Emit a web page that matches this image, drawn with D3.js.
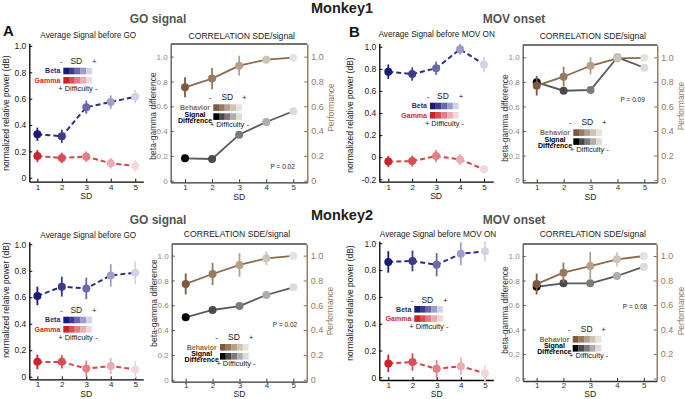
<!DOCTYPE html>
<html><head><meta charset="utf-8">
<script src="https://cdn.jsdelivr.net/npm/d3@7"></script>
<style>
body{margin:0;background:#fff}
svg{display:block}
text{font-family:"Liberation Sans",Arial,Helvetica,sans-serif}
</style>
</head><body>
<svg id="c" width="685" height="399"></svg>
<script>
// ---------------- DATA ----------------
const sdLevels = [1, 2, 3, 4, 5];
const powerTicks = [0, 0.2, 0.4, 0.6, 0.8, 1.0];
const powerTicksMov1 = [-0.2, 0, 0.2, 0.4, 0.6, 0.8, 1.0];
const corrTicks = [0, 0.2, 0.4, 0.6, 0.8, 1.0];

// Monkey1 - GO signal
const m1GoBeta = [0.33, 0.315, 0.535, 0.575, 0.615];
const m1GoBetaErr = [0.05, 0.05, 0.05, 0.05, 0.05];
const m1GoGamma = [0.165, 0.15, 0.16, 0.11, 0.09];
const m1GoGammaErr = [0.045, 0.04, 0.04, 0.04, 0.045];
const m1GoBehavior = [0.753, 0.823, 0.927, 0.976, 0.992];
const m1GoBehaviorErr = [0.08, 0.085, 0.08, 0.03, 0];
const m1GoSignalDiff = [0.18, 0.175, 0.371, 0.473, 0.56];

// Monkey1 - MOV onset
const m1MovBeta = [0.775, 0.753, 0.806, 0.978, 0.84];
const m1MovBetaErr = [0.065, 0.06, 0.06, 0.05, 0.07];
const m1MovGamma = [-0.04, -0.035, 0.01, -0.02, -0.11];
const m1MovGammaErr = [0.05, 0.05, 0.055, 0.05, 0.035];
const m1MovBehavior = [0.769, 0.842, 0.931, 0.991, 0.996];
const m1MovBehaviorErr = [0.08, 0.08, 0.07, 0.025, 0];
const m1MovSignalDiff = [0.796, 0.728, 0.734, 1.0, 0.915];

// Monkey2 - GO signal
const m2GoBeta = [0.61, 0.68, 0.667, 0.765, 0.785];
const m2GoBetaErr = [0.07, 0.075, 0.08, 0.085, 0.085];
const m2GoGamma = [0.112, 0.112, 0.062, 0.08, 0.055];
const m2GoGammaErr = [0.055, 0.05, 0.06, 0.06, 0.065];
const m2GoBehavior = [0.772, 0.852, 0.925, 0.979, 0.998];
const m2GoBehaviorErr = [0.085, 0.09, 0.095, 0.055, 0];
const m2GoSignalDiff = [0.503, 0.562, 0.594, 0.683, 0.745];

// Monkey2 - MOV onset
const m2MovBeta = [0.861, 0.868, 0.84, 0.922, 0.94];
const m2MovBetaErr = [0.08, 0.077, 0.087, 0.085, 0.075];
const m2MovGamma = [0.104, 0.114, 0.063, 0.083, 0.03];
const m2MovGammaErr = [0.065, 0.065, 0.065, 0.065, 0.06];
const m2MovBehavior = [0.771, 0.864, 0.918, 0.973, 1.0];
const m2MovBehaviorErr = [0.085, 0.083, 0.115, 0.058, 0];
const m2MovSignalDiff = [0.749, 0.777, 0.777, 0.837, 0.913];

const pLabels = ["P = 0.02", "P = 0.09", "P = 0.02", "P = 0.08"];

// ---------------- STYLE ----------------
const betaColors = ['#1b1b72', '#3c3c8c', '#6a6aaa', '#9d9dc9', '#d3d3e8'];
const gammaColors = ['#cc2229', '#d65058', '#e07f85', '#e9aeb1', '#f3d8da'];
const behaviorColors = ['#7b5a3f', '#987a61', '#b5a08c', '#cfc3b6', '#e6e2dd'];
const signalColors = ['#000000', '#4a4a4a', '#7b7b7b', '#adadad', '#dcdcdc'];
const betaLine = '#2e2e88', gammaLine = '#d8434a';
const brownLine = '#8b6a4e', grayLine = '#5a5a5a';
const brownText = '#9a7a5e';

const svg = d3.select('#c');
const fmt = d => d === 0 ? '0' : d.toFixed(1);

function txt(g, x, y, s, o = {}) {
  const t = g.append('text').attr('x', x).attr('y', y).text(s)
    .attr('font-size', o.size || 8)
    .attr('fill', o.fill || '#222')
    .attr('text-anchor', o.anchor || 'middle');
  if (o.bold) t.attr('font-weight', 'bold');
  return t;
}
function vtxt(g, x, y, s, o = {}) {
  return g.append('text').attr('transform', `translate(${x},${y}) rotate(-90)`)
    .text(s).attr('font-size', o.size || 8.5).attr('fill', o.fill || '#222')
    .attr('text-anchor', 'middle');
}

function styleAxis(ag, color, size) {
  ag.select('.domain').attr('stroke', color).attr('stroke-width', 1.3);
  ag.selectAll('.tick line').attr('stroke', color).attr('stroke-width', 1);
  ag.selectAll('.tick text').attr('fill', color === '#000' ? '#222' : color)
    .attr('font-size', size || 8.5).attr('font-family', '"Liberation Sans",Arial,sans-serif');
}

function points(g, x, y, vals, errs, colors, lineColor, dashed) {
  const line = d3.line().x((d, i) => x(sdLevels[i])).y(d => y(d));
  const p = g.append('path').attr('d', line(vals)).attr('fill', 'none')
    .attr('stroke', lineColor).attr('stroke-width', dashed ? 2 : 1.8);
  if (dashed) p.attr('stroke-dasharray', '5,3');
  if (errs) {
    g.selectAll(null).data(vals).enter().append('line')
      .attr('x1', (d, i) => x(sdLevels[i])).attr('x2', (d, i) => x(sdLevels[i]))
      .attr('y1', (d, i) => y(d - errs[i])).attr('y2', (d, i) => y(d + errs[i]))
      .attr('stroke', (d, i) => colors[i]).attr('stroke-width', 1.8);
  }
  g.selectAll(null).data(vals).enter().append('circle')
    .attr('cx', (d, i) => x(sdLevels[i])).attr('cy', d => y(d)).attr('r', 4)
    .attr('fill', (d, i) => colors[i]);
}

function swatchRow(g, sx, sy, colors) {
  g.selectAll(null).data(colors).enter().append('rect')
    .attr('x', (d, i) => sx + i * 5.7).attr('y', sy).attr('width', 5.8).attr('height', 6.6)
    .attr('fill', d => d);
}

function signalLegend(g, sx, sy) {
  txt(g, sx - 2, sy - 3.4, '-', {size: 8});
  txt(g, sx + 13, sy - 3.4, 'SD', {size: 8.5});
  txt(g, sx + 31, sy - 3.4, '+', {size: 8});
  swatchRow(g, sx, sy, betaColors);
  swatchRow(g, sx, sy + 9.3, gammaColors);
  txt(g, sx - 3, sy + 5.6, 'Beta', {size: 7, bold: true, fill: '#2b2b85', anchor: 'end'});
  txt(g, sx - 3, sy + 14.9, 'Gamma', {size: 7, bold: true, fill: '#d0282e', anchor: 'end'});
  txt(g, sx + 14.5, sy + 23.3, '+ Difficulty -', {size: 7.5});
}

function corrLegend(g, sx, sy) {
  txt(g, sx - 3.3, sy - 4.3, '-', {size: 8});
  txt(g, sx + 14, sy - 4.3, 'SD', {size: 8.5});
  txt(g, sx + 31, sy - 4.3, '+', {size: 8});
  swatchRow(g, sx, sy, behaviorColors);
  swatchRow(g, sx, sy + 9, signalColors);
  txt(g, sx - 18.3, sy + 5.7, 'Behavior', {size: 7, bold: true, fill: brownLine});
  txt(g, sx - 18.3, sy + 12.4, 'Signal', {size: 7, bold: true, fill: '#000'});
  txt(g, sx - 18.3, sy + 18.4, 'Difference', {size: 7, bold: true, fill: '#000'});
  txt(g, sx + 16, sy + 22.4, '+ Difficulty -', {size: 7.5});
}

function sdLabel(g, x, axBot) {
  txt(g, x, Math.min(axBot + 17.5, 397.2), 'SD', {size: 8.6});
}
function tickPad(axBot) { return axBot > 381 ? 0.3 : (axBot > 380.5 ? 1.2 : 2.5); }

function signalPanel(L, beta, betaErr, gamma, gammaErr, yTicks, title) {
  const g = svg.append('g');
  const x = d3.scaleLinear().domain(L.xDom).range([L.axL, L.axR]);
  const y = d3.scaleLinear().domain(L.yDom).range([L.axBot, L.axTop]);
  const ya = g.append('g').attr('transform', `translate(${L.axL},0)`)
    .call(d3.axisLeft(y).tickValues(yTicks).tickFormat(fmt).tickSize(-3).tickSizeOuter(0).tickPadding(3));
  styleAxis(ya, '#000', 8.5);
  const xa = g.append('g').attr('transform', `translate(0,${L.axBot})`)
    .call(d3.axisBottom(x).tickValues(sdLevels).tickFormat(d3.format('d')).tickSize(-3).tickSizeOuter(0).tickPadding(tickPad(L.axBot)));
  styleAxis(xa, '#000', 8);
  sdLabel(g, x(3), L.axBot);
  txt(g, L.titleX, L.titleY, title, {size: 8.2});
  vtxt(g, L.ylabX, L.ylabY, 'normalized relative power (dB)');
  points(g, x, y, gamma, gammaErr, gammaColors, gammaLine, true);
  points(g, x, y, beta, betaErr, betaColors, betaLine, true);
  signalLegend(g, L.legX, L.legY);
}

function corrPanel(L, behavior, behaviorErr, signalDiff, pText) {
  const g = svg.append('g');
  const x = d3.scaleLinear().domain(L.xDom).range([L.boxL, L.boxR]);
  const y = d3.scaleLinear().domain(L.yDom).range([L.boxBot, L.boxTop]);
  g.append('line').attr('x1', L.boxL).attr('x2', L.boxR).attr('y1', L.boxTop).attr('y2', L.boxTop)
    .attr('stroke', '#444').attr('stroke-width', 1.3);
  const ya = g.append('g').attr('transform', `translate(${L.boxL},0)`)
    .call(d3.axisLeft(y).tickValues(corrTicks).tickFormat(fmt).tickSize(-3).tickSizeOuter(0).tickPadding(3));
  styleAxis(ya, '#555', 8);
  ya.selectAll('.tick text').attr('fill', '#8a8a8a');
  const ra = g.append('g').attr('transform', `translate(${L.boxR},0)`)
    .call(d3.axisRight(y).tickValues(corrTicks).tickFormat(fmt).tickSize(-3).tickSizeOuter(0).tickPadding(4));
  styleAxis(ra, brownLine, 9);
  ra.selectAll('.tick text').attr('fill', brownText);
  const xa = g.append('g').attr('transform', `translate(0,${L.boxBot})`)
    .call(d3.axisBottom(x).tickValues(sdLevels).tickFormat(d3.format('d')).tickSize(-3).tickSizeOuter(0).tickPadding(tickPad(L.boxBot)));
  styleAxis(xa, '#333', 8);
  sdLabel(g, x(3), L.boxBot);
  txt(g, L.titleX, L.titleY, 'CORRELATION SDE/signal', {size: 8.6});
  vtxt(g, L.boxL - 15, L.ylabY, 'beta-gamma difference', {fill: '#333'});
  vtxt(g, L.perfX, L.perfY, 'Performance', {fill: brownText});
  points(g, x, y, signalDiff, null, signalColors, grayLine, false);
  points(g, x, y, behavior, behaviorErr, behaviorColors, brownLine, false);
  txt(g, L.pX, L.pY, pText, {size: 6.5});
  corrLegend(g, L.legX, L.legY);
}

// ---------------- HEADINGS ----------------
const hg = svg.append('g');
txt(hg, 342, 13, 'Monkey1', {size: 14.5, bold: true, fill: '#222'});
txt(hg, 342, 219.5, 'Monkey2', {size: 14.5, bold: true, fill: '#222'});
txt(hg, 158, 23, 'GO signal', {size: 12, bold: true, fill: '#555'});
txt(hg, 514, 23, 'MOV onset', {size: 12, bold: true, fill: '#555'});
txt(hg, 158, 224, 'GO signal', {size: 12, bold: true, fill: '#555'});
txt(hg, 514, 224, 'MOV onset', {size: 12, bold: true, fill: '#555'});
txt(hg, 3, 35.5, 'A', {size: 15, bold: true, fill: '#111', anchor: 'start'});
txt(hg, 349, 36.5, 'B', {size: 15, bold: true, fill: '#111', anchor: 'start'});

// ---------------- PANELS ----------------
signalPanel({axL: 29.3, axR: 143.3, xDom: [0.67, 5.33], axTop: 43.3, axBot: 181.7, yDom: [-0.03, 1.02],
  titleX: 88.3, titleY: 38, ylabX: 9, ylabY: 113, legX: 63.3, legY: 67.7},
  m1GoBeta, m1GoBetaErr, m1GoGamma, m1GoGammaErr, powerTicks, 'Average Signal before GO');

signalPanel({axL: 379.3, axR: 493.3, xDom: [0.624, 5.39], axTop: 43.5, axBot: 181.7, yDom: [-0.222, 1.03],
  titleX: 436.7, titleY: 37, ylabX: 353, ylabY: 115, legX: 430, legY: 102.7},
  m1MovBeta, m1MovBetaErr, m1MovGamma, m1MovGammaErr, powerTicksMov1, 'Average Signal before MOV ON');

signalPanel({axL: 29.3, axR: 143.3, xDom: [0.67, 5.33], axTop: 241.7, axBot: 379.3, yDom: [-0.0196, 1.0196],
  titleX: 88.3, titleY: 237.5, ylabX: 9, ylabY: 300, legX: 63.3, legY: 316.7},
  m2GoBeta, m2GoBetaErr, m2GoGamma, m2GoGammaErr, powerTicks, 'Average Signal before GO');

signalPanel({axL: 379.3, axR: 493.3, xDom: [0.628, 5.343], axTop: 241, axBot: 380, yDom: [-0.02, 1.017],
  titleX: 438, titleY: 236.5, ylabX: 353, ylabY: 303, legX: 414.3, legY: 306},
  m2MovBeta, m2MovBetaErr, m2MovGamma, m2MovGammaErr, powerTicks, 'Average Signal before MOV ON');

corrPanel({boxL: 170.7, boxR: 307.3, xDom: [0.472, 5.517], boxTop: 44, boxBot: 182.3, yDom: [-0.013, 1.102],
  titleX: 241.7, titleY: 38.5, ylabY: 116, perfX: 334, perfY: 107.5, pX: 282.7, pY: 169, legX: 213.3, legY: 104.3},
  m1GoBehavior, m1GoBehaviorErr, m1GoSignalDiff, pLabels[0]);

corrPanel({boxL: 522.7, boxR: 657.3, xDom: [0.48, 5.48], boxTop: 45, boxBot: 182.3, yDom: [-0.017, 1.10],
  titleX: 592.8, titleY: 38.5, ylabY: 118, perfX: 684, perfY: 106, pX: 632.7, pY: 102, legX: 573.3, legY: 129.3},
  m1MovBehavior, m1MovBehaviorErr, m1MovSignalDiff, pLabels[1]);

corrPanel({boxL: 171.7, boxR: 306.7, xDom: [0.48, 5.498], boxTop: 244, boxBot: 381.7, yDom: [-0.016, 1.094],
  titleX: 237, titleY: 236.5, ylabY: 303, perfX: 333, perfY: 311, pX: 285, pY: 326.5, legX: 220, legY: 344},
  m2GoBehavior, m2GoBehaviorErr, m2GoSignalDiff, pLabels[2]);

corrPanel({boxL: 522.7, boxR: 656.7, xDom: [0.48, 5.48], boxTop: 244, boxBot: 381, yDom: [-0.02, 1.098],
  titleX: 592.8, titleY: 236.5, ylabY: 310, perfX: 684, perfY: 311, pX: 635, pY: 309, legX: 572.7, legY: 336},
  m2MovBehavior, m2MovBehaviorErr, m2MovSignalDiff, pLabels[3]);
</script>
</body></html>
